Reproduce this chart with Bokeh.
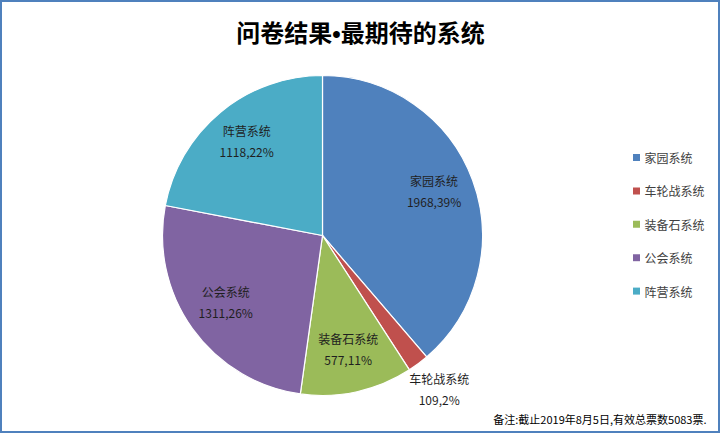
import math
from bokeh.plotting import figure
from bokeh.models import Range1d, ColumnDataSource
from bokeh.core.properties import value
from bokeh.embed import file_html
from bokeh.resources import INLINE

# ---- data ----
categories = ["家园系统", "车轮战系统", "装备石系统", "公会系统", "阵营系统"]
votes = [1968, 109, 577, 1311, 1118]
colors = ["#4F81BD", "#C0504D", "#9BBB59", "#8064A2", "#4BACC6"]
title_text = "问卷结果•最期待的系统"
note_text = "备注:截止2019年8月5日,有效总票数5083票."

W, H = 720, 433
FONT = "Noto Sans CJK SC"

p = figure(width=W, height=H, output_backend="svg", toolbar_location=None,
           x_range=Range1d(0, W), y_range=Range1d(0, H), min_border=0)
p.axis.visible = False
p.grid.visible = False
p.background_fill_color = "white"
p.border_fill_color = "white"
p.outline_line_color = "#4F81BD"
p.outline_line_width = 3

def Y(ypx):
    return H - ypx

# pie geometry
cx, cy, R = 322, Y(235), 160
total = sum(votes)
starts, ends, mids, fracs = [], [], [], []
cum = 0.0
for v in votes:
    f = v / total
    a0 = math.pi / 2 - 2 * math.pi * cum
    a1 = math.pi / 2 - 2 * math.pi * (cum + f)
    starts.append(a0); ends.append(a1); mids.append((a0 + a1) / 2); fracs.append(f)
    cum += f

src = ColumnDataSource(dict(start=starts, end=ends, color=colors))
p.wedge(x=cx, y=cy, radius=R, start_angle="start", end_angle="end", direction="clock",
        fill_color="color", line_color="white", line_width=1.2, source=src)

# data labels
lx, ly1, ly2, t1, t2 = [], [], [], [], []
for cat, v, f, m in zip(categories, votes, fracs, mids):
    r = 195 if f < 0.05 else 119
    x = cx + r * math.cos(m)
    y = cy + r * math.sin(m) + 3
    lx.append(x); ly1.append(y + 10.5); ly2.append(y - 10.5)
    t1.append(cat); t2.append(f"{v},{round(f * 100)}%")
p.text(x=lx, y=ly1, text=t1, text_font=value(FONT), text_font_size="12px",
       text_color="#1f1f1f", text_align="center", text_baseline="middle")
p.text(x=lx, y=ly2, text=t2, text_font=value(FONT), text_font_size="12px",
       text_color="#1f1f1f", text_align="center", text_baseline="middle")

# legend
leg_y = [Y(157 + i * 33.4) for i in range(len(categories))]
p.rect(x=[636] * len(categories), y=leg_y, width=7, height=7, fill_color=colors, line_color=None)
p.text(x=[644] * len(categories), y=leg_y, text=categories, text_font=value(FONT),
       text_font_size="12px", text_color="#404040", text_align="left", text_baseline="middle")

# title
p.text(x=[360], y=[Y(33)], text=[title_text],
       text_font=value("Liberation Sans, Noto Sans CJK SC"), text_font_size="24px",
       text_font_style="bold", text_color="#000000", text_align="center", text_baseline="middle")

# note
p.text(x=[706], y=[Y(418)], text=[note_text], text_font=value(FONT), text_font_size="11px",
       text_color="#000000", text_align="right", text_baseline="middle")

open("out.html", "w").write(file_html(p, INLINE))
